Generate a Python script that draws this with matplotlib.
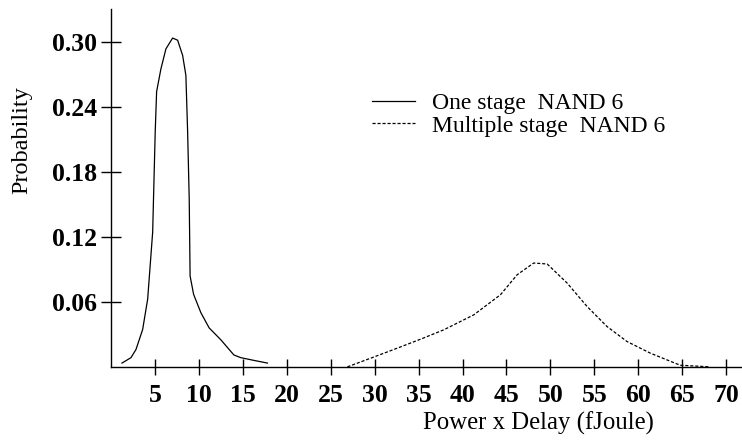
import matplotlib.pyplot as plt

# One stage NAND 6 (solid)
one_x = [1.25, 2.27, 2.84, 3.6, 4.17, 4.74, 5.03, 5.19, 5.68, 6.25, 7.01, 7.58,
         8.15, 8.52, 8.72, 8.9, 9.0, 9.4, 10.23, 11.17, 12.5, 13.98, 14.77, 16.25, 17.8]
one_y = [0.0035, 0.0085, 0.016, 0.0345, 0.0625, 0.1245, 0.217, 0.2545, 0.2755,
         0.294, 0.304, 0.302, 0.288, 0.2695, 0.217, 0.155, 0.084, 0.067, 0.050,
         0.036, 0.025, 0.011, 0.0085, 0.006, 0.0035]

# Multiple stage NAND 6 (dashed)
multi_x = [26.9, 29.74, 32.58, 35.23, 37.88, 41.28, 44.32, 46.22, 48.1, 49.63,
           51.9, 54.17, 56.44, 58.72, 61.36, 64.77, 68.18]
multi_y = [0.0, 0.0086, 0.0173, 0.0256, 0.0343, 0.0481, 0.0667, 0.0852, 0.096,
           0.0951, 0.0775, 0.0558, 0.0373, 0.0234, 0.0127, 0.0015, 0.0]

x_ticks = [5, 10, 15, 20, 25, 30, 35, 40, 45, 50, 55, 60, 65, 70]
y_ticks = [0.06, 0.12, 0.18, 0.24, 0.30]

plt.rcParams['font.family'] = ['Liberation Serif', 'DejaVu Serif']

fig = plt.figure(figsize=(7.42, 4.42), dpi=100)
ax = fig.add_axes([0.1496, 0.170, 0.8504, 0.81])

ax.plot(one_x, one_y, color='black', linewidth=0.9, label='One stage  NAND 6')
ax.plot(multi_x, multi_y, color='black', linewidth=0.9, linestyle=(0, (2.5, 1.5)),
        label='Multiple stage  NAND 6')

ax.set_xlim(0, 71.8)
ax.set_ylim(0, 0.331)
ax.set_xticks(x_ticks)
ax.set_yticks(y_ticks)
ax.set_yticklabels(['%.2f' % v for v in y_ticks])

for s in ['top', 'right']:
    ax.spines[s].set_visible(False)
for s in ['left', 'bottom']:
    ax.spines[s].set_linewidth(1.0)

ax.tick_params(direction='inout', width=1.0, labelsize=18.5)
ax.tick_params(axis='y', length=14, pad=3)
ax.tick_params(axis='x', length=11, pad=7)
for lbl in ax.get_xticklabels() + ax.get_yticklabels():
    lbl.set_fontweight('bold')

ax.set_xlabel('Power x Delay (fJoule)', fontsize=17.8)
ax.set_ylabel('Probability', fontsize=17.5)
ax.xaxis.set_label_coords(0.678, -0.126)
ax.yaxis.set_label_coords(-0.124, 0.634)

ax.legend(loc='upper left', bbox_to_anchor=(0.398, 0.793), frameon=False,
          fontsize=17, handlelength=1.82, handletextpad=0.72, labelspacing=0.05,
          borderaxespad=0)

fig.savefig('out.png', dpi=100)
